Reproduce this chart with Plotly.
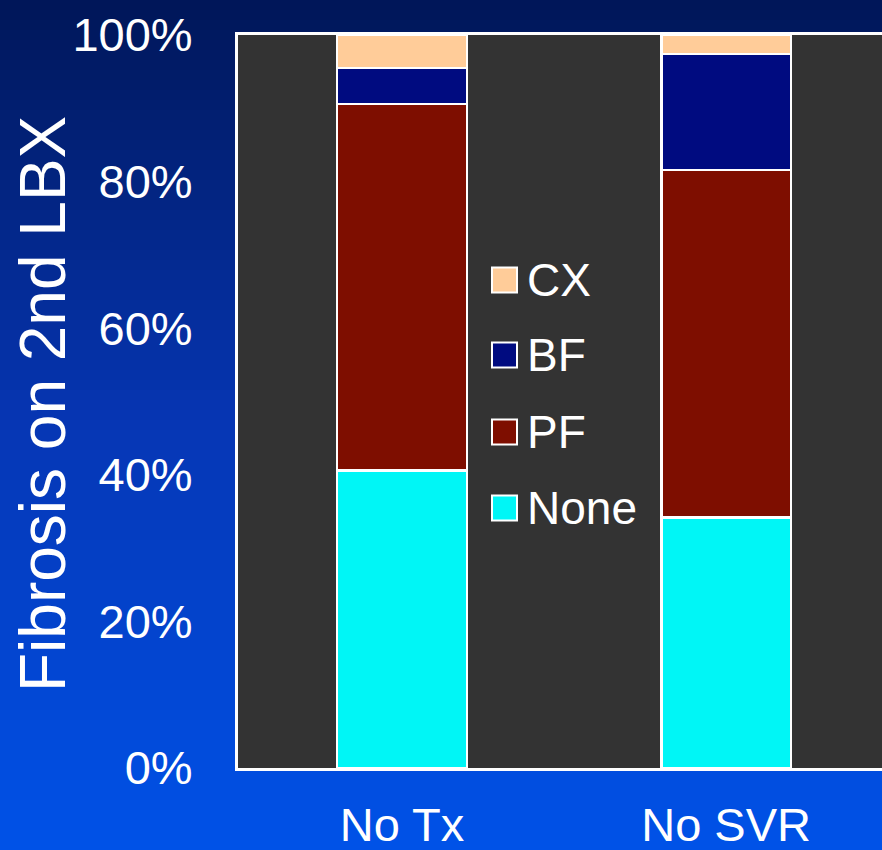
import plotly.graph_objects as go

# Fibrosis stage on second liver biopsy, percent of patients per group
groups = ["No Tx", "No SVR"]
stages = ["None", "PF", "BF", "CX"]
none_pct = [40.6, 34.2]
pf_pct = [50.0, 47.4]
bf_pct = [4.9, 15.8]
cx_pct = [4.5, 2.6]
stage_colors = {"None": "#00F6F6", "PF": "#7E0E00", "BF": "#000B80", "CX": "#FFCC99"}
y_ticks = [0, 20, 40, 60, 80, 100]

FONT = "Liberation Sans, Arial, sans-serif"
W, H = 882, 850
ML, MR, MT, MB = 238, 0, 35, 82

series = {"None": none_pct, "PF": pf_pct, "BF": bf_pct, "CX": cx_pct}

fig = go.Figure()
for s in stages:
    fig.add_trace(go.Bar(
        x=list(range(len(groups))), y=series[s], name=s,
        width=0.4,
        marker=dict(color=stage_colors[s], line=dict(color="white", width=2.5)),
        showlegend=False,
    ))

# paper-coordinate helpers
pw, ph = W - ML - MR, H - MT - MB
def px_x(p):
    return (p - ML) / pw
def px_y(p):
    return (H - MB - p) / ph

shapes = []
# vertical blue gradient behind everything
top_c, mid_c, bot_c = (0, 22, 88), (6, 54, 180), (0, 82, 232)
n = 85
for i in range(n):
    t = (i + 0.5) / n
    if t < 0.5:
        a, b, u = top_c, mid_c, t / 0.5
    else:
        a, b, u = mid_c, bot_c, (t - 0.5) / 0.5
    c = tuple(round(a[k] + (b[k] - a[k]) * u) for k in range(3))
    y0p, y1p = i * H / n, (i + 1) * H / n + 1
    shapes.append(dict(type="rect", xref="paper", yref="paper",
                       x0=px_x(-2), x1=px_x(W + 2), y0=px_y(y1p), y1=px_y(y0p),
                       fillcolor="rgb(%d,%d,%d)" % c, line=dict(width=0), layer="below"))
# dark plotting area
shapes.append(dict(type="rect", xref="paper", yref="paper", x0=0, x1=1, y0=0, y1=1,
                   fillcolor="#333333", line=dict(width=0), layer="below"))

# legend (top to bottom: CX, BF, PF, None)
annotations = []
leg_order = ["CX", "BF", "PF", "None"]
leg_y = [280, 355, 432, 508]
sq = 25
for s, cy in zip(leg_order, leg_y):
    shapes.append(dict(type="rect", xref="paper", yref="paper",
                       x0=px_x(492), x1=px_x(492 + sq),
                       y0=px_y(cy + sq / 2), y1=px_y(cy - sq / 2),
                       fillcolor=stage_colors[s], line=dict(color="white", width=2)))
    annotations.append(dict(text=s, xref="paper", yref="paper", x=px_x(525), y=px_y(cy),
                            xanchor="left", yanchor="middle", showarrow=False,
                            font=dict(family=FONT, size=46, color="white")))

# y-axis title
annotations.append(dict(text="Fibrosis on 2nd LBX", xref="paper", yref="paper",
                        x=px_x(43), y=px_y(404), textangle=-90,
                        xanchor="center", yanchor="middle", showarrow=False,
                        font=dict(family=FONT, size=64, color="white")))

fig.update_layout(
    width=W, height=H,
    margin=dict(l=ML, r=MR, t=MT, b=MB, pad=0, autoexpand=False),
    barmode="stack",
    paper_bgcolor="#0a3cb8",
    plot_bgcolor="#333333",
    shapes=shapes,
    annotations=annotations,
    font=dict(family=FONT, color="white"),
    xaxis=dict(
        range=[-0.506, 1.481], automargin=False,
        tickmode="array", tickvals=list(range(len(groups))), ticktext=groups,
        tickfont=dict(family=FONT, size=47, color="white"),
        showgrid=False, zeroline=False,
        showline=True, linecolor="white", linewidth=3, mirror=True,
        ticks="", ticklabelstandoff=14,
    ),
    yaxis=dict(
        range=[0, 100], automargin=False,
        tickmode="array", tickvals=y_ticks, ticktext=["%d%%" % v for v in y_ticks],
        tickfont=dict(family=FONT, size=47, color="white"),
        showgrid=False, zeroline=False,
        showline=True, linecolor="white", linewidth=3, mirror=False,
        ticks="", ticklabelstandoff=33,
    ),
)

fig.write_html("out.html")
